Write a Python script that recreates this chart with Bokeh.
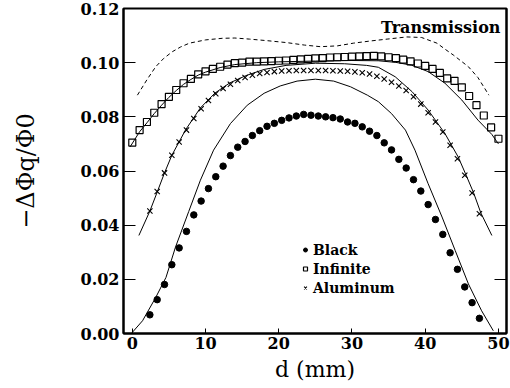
from bokeh.plotting import figure
from bokeh.models import (Range1d, LinearAxis, Label, Legend, LegendItem,
                          FixedTicker, NumeralTickFormatter)
from bokeh.embed import file_html
from bokeh.resources import INLINE

# ---- measured data: position d (mm) and -dPhi_q/Phi_0 ----
black_d = [2.4, 3.4, 4.4, 5.4, 6.4, 7.4, 8.4, 9.4, 10.4, 11.4, 12.4, 13.4,
           14.4, 15.4, 16.4, 17.4, 18.4, 19.4, 20.4, 21.4, 22.4, 23.4, 24.4,
           25.4, 26.4, 27.4, 28.4, 29.4, 30.4, 31.4, 32.4, 33.4, 34.4, 35.4,
           36.4, 37.4, 38.4, 39.4, 40.4, 41.4, 42.4, 43.4, 44.4, 45.4, 46.4,
           47.4]
black_v = [0.0069, 0.0125, 0.0181, 0.0254, 0.0316, 0.0377, 0.0438, 0.0489,
           0.0535, 0.0579, 0.0618, 0.0657, 0.0688, 0.0709, 0.0731, 0.0749,
           0.0765, 0.0776, 0.0787, 0.0796, 0.0803, 0.0809, 0.0806, 0.0803,
           0.0800, 0.0797, 0.0792, 0.0781, 0.0776, 0.0763, 0.0747, 0.0731,
           0.0704, 0.0678, 0.0643, 0.0611, 0.0568, 0.0526, 0.0476, 0.0421,
           0.0366, 0.0298, 0.0237, 0.0172, 0.0114, 0.0056]

infinite_d = [0, 1, 2, 3, 4, 5, 6, 7, 8, 9, 10, 11, 12, 13, 14, 15, 16, 17,
              18, 19, 20, 21, 22, 23, 24, 25, 26, 27, 28, 29, 30, 31, 32, 33,
              34, 35, 36, 37, 38, 39, 40, 41, 42, 43, 44, 45, 46, 47, 48, 49,
              50]
infinite_v = [0.0705, 0.0751, 0.0781, 0.0815, 0.0847, 0.0874, 0.0899, 0.0924,
              0.0940, 0.0957, 0.0968, 0.0977, 0.0985, 0.0993, 0.0998, 0.1000,
              0.1004, 0.1004, 0.1005, 0.1006, 0.1007, 0.1008, 0.1010, 0.1012,
              0.1014, 0.1016, 0.1017, 0.1019, 0.1020, 0.1021, 0.1022, 0.1023,
              0.1024, 0.1025, 0.1023, 0.1020, 0.1017, 0.1011, 0.1005, 0.0997,
              0.0988, 0.0977, 0.0962, 0.0942, 0.0933, 0.0909, 0.0877, 0.0843,
              0.0805, 0.0761, 0.0719]

aluminum_d = black_d
aluminum_v = [0.0452, 0.0524, 0.0593, 0.0658, 0.0707, 0.0751, 0.0794, 0.0830,
              0.0860, 0.0885, 0.0905, 0.0920, 0.0934, 0.0945, 0.0954, 0.0960,
              0.0964, 0.0967, 0.0969, 0.0970, 0.0971, 0.0971, 0.0971, 0.0971,
              0.0971, 0.0970, 0.0969, 0.0968, 0.0966, 0.0963, 0.0958, 0.0950,
              0.0940, 0.0928, 0.0914, 0.0897, 0.0874, 0.0847, 0.0815, 0.0781,
              0.0744, 0.0695, 0.0645, 0.0584, 0.0519, 0.0442]

# model curves
black_fit_d = [0.0, 1.4, 3.2, 4.6, 5.9, 7.7, 9.3, 11.1, 13.4, 15.7, 18.0, 20.2,
               22.5, 25.0, 27.5, 29.8, 32.1, 33.6, 35.4, 37.3, 38.6, 40.4, 42.3,
               44.1, 45.9, 47.7, 49.3]
black_fit_v = [0.0004, 0.0047, 0.0133, 0.0207, 0.0319, 0.0450, 0.0566, 0.0677,
               0.0775, 0.0843, 0.0887, 0.0914, 0.0932, 0.0939, 0.0932, 0.0911,
               0.0880, 0.0856, 0.0812, 0.0751, 0.0677, 0.0553, 0.0430, 0.0306,
               0.0183, 0.0084, 0.0010]

aluminum_fit_d = [0.9, 2.4, 3.4, 4.4, 5.4, 7.3, 9.3, 11.3, 13.3, 15.5, 18.0,
                  21.0, 25.0, 29.0, 32.0, 33.6, 35.9, 38.2, 40.4, 42.7, 44.5,
                  45.5, 46.6, 47.6, 49.1]
aluminum_fit_v = [0.0362, 0.0452, 0.0522, 0.0593, 0.0658, 0.0753, 0.0833,
                  0.0888, 0.0925, 0.0952, 0.0975, 0.0990, 0.0998, 0.0996,
                  0.0990, 0.0983, 0.0948, 0.0893, 0.0825, 0.0738, 0.0652,
                  0.0590, 0.0520, 0.0445, 0.0362]

infinite_fit_d = [-0.3, 1.0, 2.0, 3.0, 4.0, 5.0, 6.0, 7.0, 8.0, 9.0, 10.0, 12.0,
                  14.0, 17.0, 20.0, 25.0, 30.0, 33.6, 36.0, 38.1, 40.4, 42.7,
                  45.0, 47.2, 49.1, 50.0]
infinite_fit_v = [0.0689, 0.0745, 0.0778, 0.0812, 0.0843, 0.0872, 0.0897,
                  0.0920, 0.0938, 0.0954, 0.0965, 0.0982, 0.0993, 0.1000,
                  0.1003, 0.1006, 0.1008, 0.1007, 0.1001, 0.0991, 0.0967,
                  0.0924, 0.0862, 0.0788, 0.0735, 0.0700]

upper_d = [0.7, 2.0, 3.2, 4.3, 5.5, 6.6, 7.8, 10.0, 12.3, 14.0, 16.0, 18.5,
           21.1, 23.5, 25.7, 28.0, 30.2, 32.5, 34.8, 37.5, 39.5, 41.6, 42.7,
           43.9, 45.9, 47.2, 48.7]
upper_v = [0.0880, 0.0937, 0.0985, 0.1016, 0.1041, 0.1058, 0.1072, 0.1084,
           0.1090, 0.1091, 0.1087, 0.1081, 0.1074, 0.1065, 0.1059, 0.1062,
           0.1072, 0.1080, 0.1087, 0.1095, 0.1093, 0.1072, 0.1050, 0.1027,
           0.0985, 0.0945, 0.0880]

x_ticks = [0, 10, 20, 30, 40, 50]
y_ticks = [0.00, 0.02, 0.04, 0.06, 0.08, 0.10, 0.12]
series_names = ["Black", "Infinite", "Aluminum"]
x_title = "d (mm)"
y_title = "\u2212\u0394\u03a6q/\u03a60"
panel_title = "Transmission"

SERIF = "DejaVu Serif"

p = figure(width=510, height=388, output_backend="svg", toolbar_location=None,
           x_range=Range1d(-1.2, 51.1), y_range=Range1d(0.0, 0.12),
           min_border_left=123, min_border_right=4, min_border_top=8,
           min_border_bottom=55)
p.background_fill_color = "white"
p.border_fill_color = "white"
p.outline_line_color = "black"
p.outline_line_width = 2
p.xgrid.visible = False
p.ygrid.visible = False

for ax in (p.xaxis[0], p.yaxis[0]):
    ax.axis_line_width = 2
    ax.major_tick_out = 0
    ax.minor_tick_line_color = None
    ax.major_label_text_font = SERIF
    ax.major_label_text_font_style = "bold"
    ax.major_label_text_font_size = "16px"
    ax.major_label_text_color = "black"
    ax.axis_label_text_font = SERIF
    ax.axis_label_text_font_style = "normal"
    ax.axis_label_text_color = "black"
p.xaxis.ticker = FixedTicker(ticks=x_ticks)
p.yaxis.ticker = FixedTicker(ticks=y_ticks)
p.yaxis.formatter = NumeralTickFormatter(format="0.00")
p.xaxis.major_tick_in = 5
p.yaxis.major_tick_in = 12
p.xaxis.major_label_standoff = 3
p.yaxis.major_label_standoff = 4

p.xaxis.axis_label = x_title
p.xaxis.axis_label_text_font_size = "22px"
p.xaxis.axis_label_standoff = 5
p.yaxis.axis_label = y_title
p.yaxis.axis_label_text_font_size = "24px"
p.yaxis.axis_label_standoff = 38

# inward ticks on the right-hand frame edge, no labels
right = LinearAxis(ticker=FixedTicker(ticks=y_ticks), major_tick_in=12,
                   major_tick_out=0, minor_tick_line_color=None,
                   major_label_text_font_size="1px",
                   major_label_text_color=None, major_label_standoff=0,
                   axis_line_width=2)
p.add_layout(right, "right")

# curves
p.line(upper_d, upper_v, line_color="black", line_width=1, line_dash="4 3")
p.line(infinite_fit_d, infinite_fit_v, line_color="black", line_width=1)
p.line(aluminum_fit_d, aluminum_fit_v, line_color="black", line_width=1)
p.line(black_fit_d, black_fit_v, line_color="black", line_width=1)

# measurements
r_black = p.scatter(black_d, black_v, marker="circle", size=6.5,
                    fill_color="black", line_color="black")
r_inf = p.scatter(infinite_d, infinite_v, marker="square", size=7,
                  fill_color=None, line_color="black", line_width=1.2)
r_al = p.scatter(aluminum_d, aluminum_v, marker="x", size=7.5,
                 line_color="black", line_width=1.1)

legend = Legend(items=[LegendItem(label=name, renderers=[r])
                       for name, r in zip(series_names,
                                          [r_black, r_inf, r_al])],
                location=(177, 36), orientation="vertical",
                background_fill_alpha=0, border_line_color=None,
                label_text_font=SERIF, label_text_font_style="bold",
                label_text_font_size="14px", label_text_color="black",
                glyph_width=10, glyph_height=19, label_height=19,
                label_standoff=3, spacing=0, padding=0, margin=0)
p.add_layout(legend, "center")

p.add_layout(Label(x=377, y=306, x_units="screen", y_units="screen",
                   text=panel_title, text_font=SERIF,
                   text_font_style="bold", text_font_size="16px",
                   text_align="right", text_baseline="alphabetic",
                   text_color="black"))

open("out.html", "w").write(file_html(p, INLINE))
